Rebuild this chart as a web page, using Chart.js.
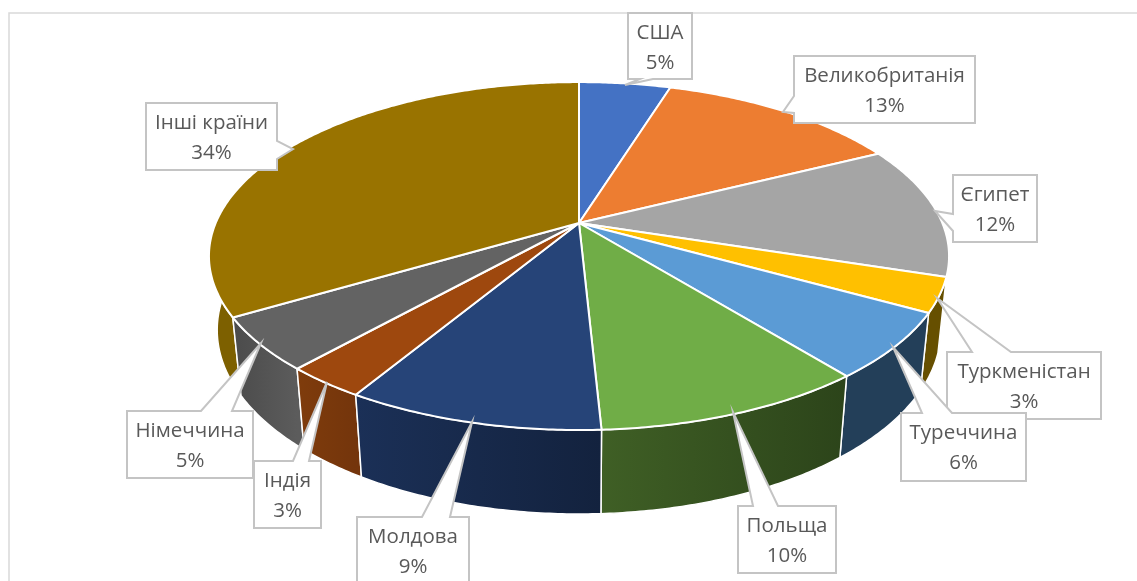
<!DOCTYPE html>
<html>
<head>
<meta charset="utf-8">
<style>
  html, body { margin: 0; padding: 0; background: #fff; overflow: hidden; }
  canvas { display: block; }
</style>
<script src="https://cdn.jsdelivr.net/npm/chart.js@4"></script>
</head>
<body>
<canvas id="pie" width="1137" height="581"></canvas>
<script>
const countries = ["США", "Великобританія", "Єгипет", "Туркменістан", "Туреччина", "Польща", "Молдова", "Індія", "Німеччина", "Інші країни"];
const shares = [4.8, 12.8, 12.3, 3.2, 6.1, 10.0, 9.4, 3.0, 4.9, 33.5];
const topColors = ["#4472c4", "#ed7d31", "#a5a5a5", "#ffc000", "#5b9bd5", "#70ad47", "#264478", "#9e480e", "#636363", "#997300"];
// side wall colours, left edge then right edge of each slice
const wallLeft = ["#2a4680", "#8f4b1d", "#666666", "#664f00", "#233f59", "#3f5f25", "#1b3057", "#7f3c0c", "#4b4b4b", "#7d6000"];
const wallRight = ["#2a4680", "#8f4b1d", "#666666", "#664f00", "#233f59", "#2c441a", "#13223e", "#74350c", "#5c5c5c", "#7d6000"];

// label boxes: x1,y1,x2,y2, side the pointer leaves from, pointer base a-b, pointer tip
const callouts = [
  { box: [628, 13, 692, 79], side: "b", base: [640, 653], tip: [625, 85] },
  { box: [794, 56, 975, 123], side: "l", base: [96, 113], tip: [783, 112] },
  { box: [953, 175, 1037, 242], side: "l", base: [214, 231], tip: [935, 211] },
  { box: [947, 352, 1101, 419], side: "t", base: [972, 1011], tip: [937, 298] },
  { box: [901, 413, 1026, 481], side: "t", base: [922, 952], tip: [893, 347] },
  { box: [738, 506, 836, 573], side: "t", base: [753, 778], tip: [733, 412] },
  { box: [357, 517, 469, 584], side: "t", base: [422, 450], tip: [472, 422] },
  { box: [254, 461, 321, 528], side: "t", base: [293, 309], tip: [327, 382] },
  { box: [127, 411, 253, 478], side: "t", base: [201, 232], tip: [261, 343] },
  { box: [146, 103, 277, 170], side: "r", base: [141, 159], tip: [293, 149] },
];

// perspective of the tilted disc
const view = { cx: 579, cy: 223, a: 363.3, b: 167.7, k: 0.19, depth: 74.4, shrink: 0.022 };

function project(angle, z) {
  const w = 1 - view.k * Math.sin(angle) + view.shrink * z;
  return [
    view.cx + view.a * Math.cos(angle) / w,
    view.cy + (view.b * Math.sin(angle) + view.depth * z) / w,
  ];
}

function rimPath(ctx, from, to, z) {
  const steps = Math.max(4, Math.ceil(Math.abs(to - from) / 0.01));
  for (let i = 0; i <= steps; i++) {
    const p = project(from + (to - from) * i / steps, z);
    ctx.lineTo(p[0], p[1]);
  }
}

function drawWall(ctx, arc, i) {
  const { startAngle: s, endAngle: e } = arc;
  const p0 = project(s, 0), p1 = project(e, 0);
  const grad = ctx.createLinearGradient(Math.min(p0[0], p1[0]), 0, Math.max(p0[0], p1[0]), 0);
  grad.addColorStop(0, wallLeft[i]);
  grad.addColorStop(1, wallRight[i]);
  ctx.beginPath();
  rimPath(ctx, s, e, 0);
  rimPath(ctx, e, s, 1);
  ctx.closePath();
  ctx.fillStyle = grad;
  ctx.fill();
  ctx.strokeStyle = "#fff";
  ctx.lineWidth = 1.5;
  ctx.stroke();
}

function drawTop(ctx, arc, i) {
  ctx.beginPath();
  ctx.moveTo(view.cx, view.cy);
  rimPath(ctx, arc.startAngle, arc.endAngle, 0);
  ctx.closePath();
  ctx.fillStyle = topColors[i];
  ctx.fill();
  ctx.strokeStyle = "#fff";
  ctx.lineWidth = 2;
  ctx.stroke();
}

function drawCallout(ctx, c, i) {
  const [x1, y1, x2, y2] = c.box;
  const [a, b] = c.base;
  ctx.beginPath();
  ctx.moveTo(x1, y1);
  if (c.side === "t") { ctx.lineTo(a, y1); ctx.lineTo(c.tip[0], c.tip[1]); ctx.lineTo(b, y1); }
  ctx.lineTo(x2, y1);
  if (c.side === "r") { ctx.lineTo(x2, a); ctx.lineTo(c.tip[0], c.tip[1]); ctx.lineTo(x2, b); }
  ctx.lineTo(x2, y2);
  if (c.side === "b") { ctx.lineTo(b, y2); ctx.lineTo(c.tip[0], c.tip[1]); ctx.lineTo(a, y2); }
  ctx.lineTo(x1, y2);
  if (c.side === "l") { ctx.lineTo(x1, b); ctx.lineTo(c.tip[0], c.tip[1]); ctx.lineTo(x1, a); }
  ctx.closePath();
  ctx.fillStyle = "#fff";
  ctx.fill();
  ctx.strokeStyle = "#c4c4c4";
  ctx.lineWidth = 2;
  ctx.lineJoin = "miter";
  ctx.stroke();

  ctx.fillStyle = "#595959";
  ctx.font = '20.5px "Open Sans", sans-serif';
  ctx.textAlign = "center";
  ctx.textBaseline = "middle";
  const mid = (x1 + x2) / 2;
  ctx.fillText(countries[i], mid, y1 + 20);
  ctx.fillText(Math.round(shares[i]) + "%", mid, y1 + 50);
}

const pie3d = {
  id: "pie3d",
  beforeDraw(chart) {
    const ctx = chart.ctx;
    ctx.save();
    ctx.strokeStyle = "#d9d9d9";
    ctx.lineWidth = 1.5;
    ctx.beginPath();
    ctx.moveTo(9, 590);
    ctx.lineTo(9, 13);
    ctx.lineTo(1145, 13);
    ctx.stroke();
    ctx.restore();
  },
  // the library worked out the slice angles; paint them tilted instead of flat
  beforeDatasetDraw(chart, args) {
    const ctx = chart.ctx;
    const arcs = chart.getDatasetMeta(args.index).data;
    ctx.save();
    ctx.lineJoin = "round";
    const order = arcs.map((_, i) => i).sort((p, q) =>
      Math.sin((arcs[p].startAngle + arcs[p].endAngle) / 2) - Math.sin((arcs[q].startAngle + arcs[q].endAngle) / 2));
    order.forEach(i => drawWall(ctx, arcs[i], i));
    arcs.forEach((arc, i) => drawTop(ctx, arc, i));
    ctx.restore();
    return false;
  },
  afterDatasetsDraw(chart) {
    const ctx = chart.ctx;
    ctx.save();
    callouts.forEach((c, i) => drawCallout(ctx, c, i));
    ctx.restore();
  },
};

new Chart(document.getElementById("pie"), {
  type: "pie",
  data: {
    labels: countries,
    datasets: [{ data: shares, backgroundColor: topColors, borderColor: "#fff" }],
  },
  options: {
    responsive: false,
    animation: false,
    plugins: { legend: { display: false }, tooltip: { enabled: false } },
  },
  plugins: [pie3d],
});
</script>
</body>
</html>
